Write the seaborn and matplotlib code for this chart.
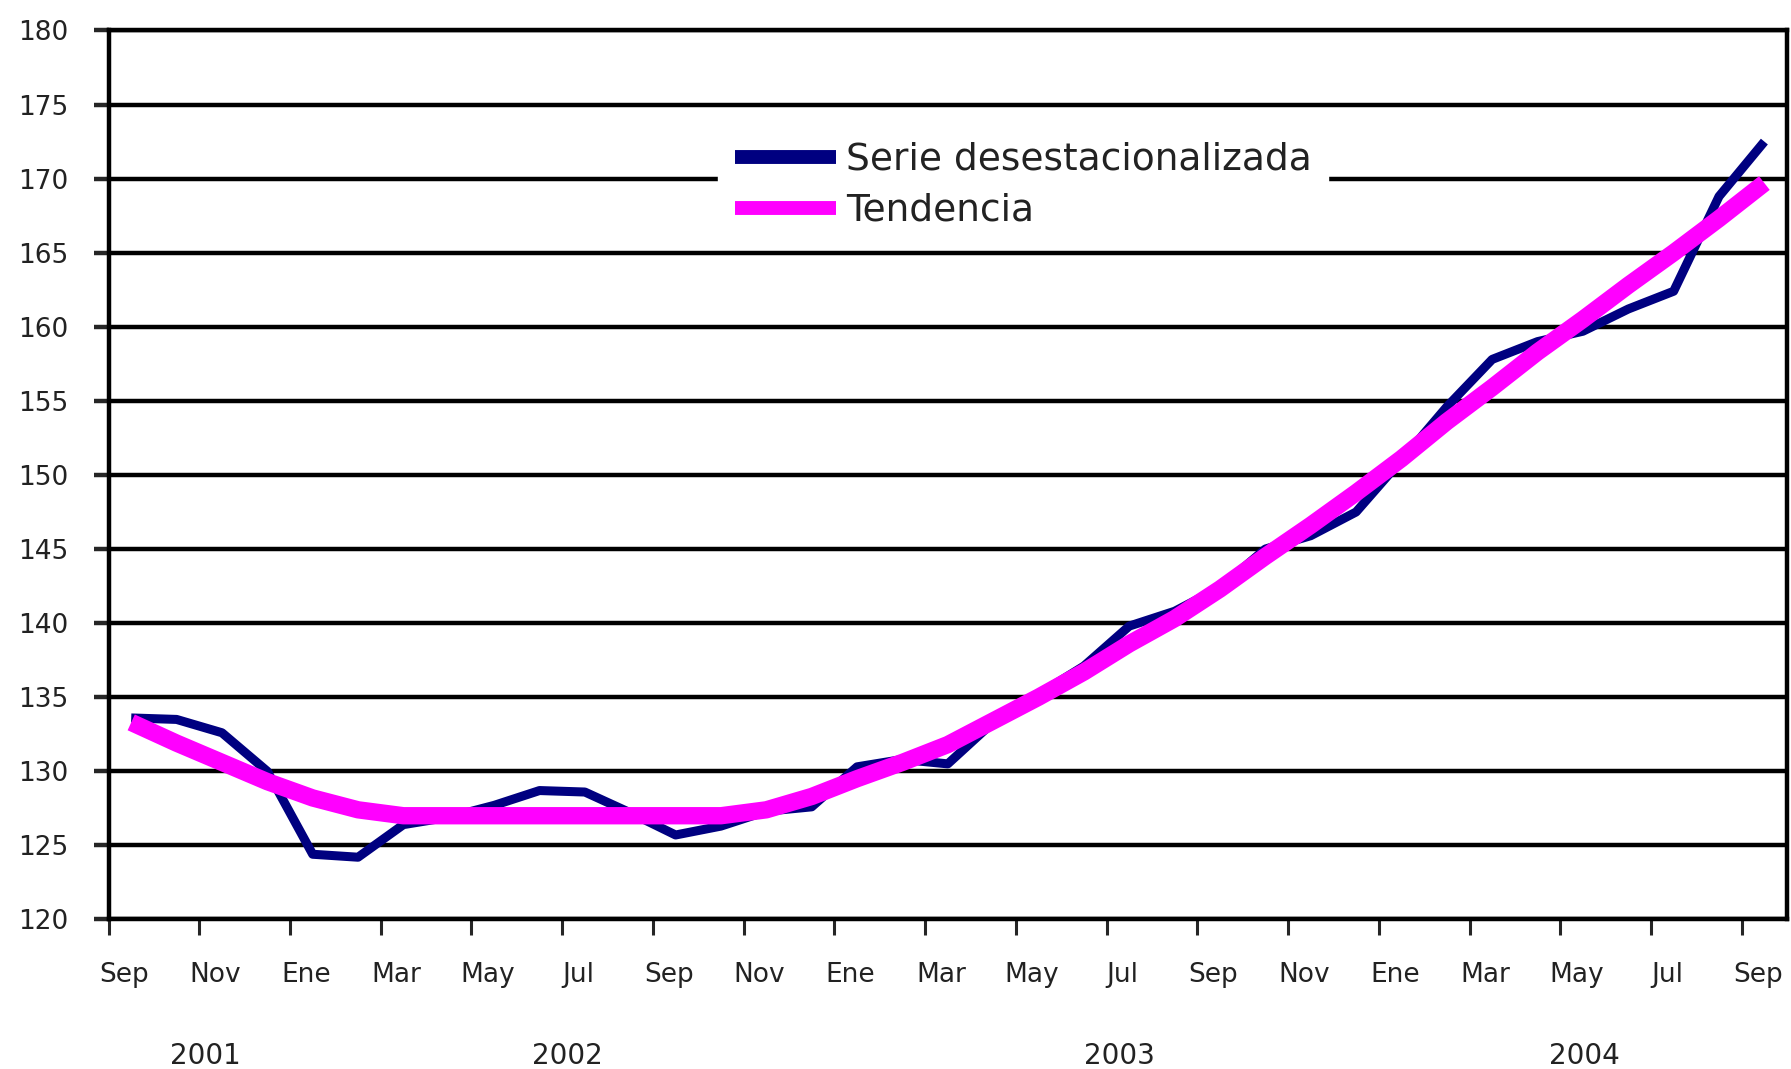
import matplotlib
matplotlib.use("Agg")
import matplotlib.pyplot as plt
import matplotlib.transforms as mtransforms
import numpy as np
import pandas as pd
import seaborn as sns

# datos mensuales, sep 2001 - sep 2004
meses = ["Sep", "Oct", "Nov", "Dic", "Ene", "Feb", "Mar", "Abr", "May", "Jun", "Jul", "Ago"] * 3 + ["Sep"]
serie = [133.6, 133.5, 132.6, 130.0, 124.4, 124.2, 126.4, 126.9, 127.7, 128.7, 128.6, 127.2,
         125.7, 126.3, 127.3, 127.6, 130.3, 130.8, 130.5, 133.3, 135.2, 137.1, 139.8, 140.8,
         142.4, 145.0, 145.9, 147.5, 151.0, 154.6, 157.8, 159.0, 159.7, 161.2, 162.4, 168.8, 172.5]
tendencia = [133.3, 131.9, 130.6, 129.3, 128.2, 127.4, 127.0, 127.0, 127.0, 127.0, 127.0, 127.0,
             127.0, 127.0, 127.4, 128.3, 129.5, 130.6, 131.8, 133.4, 135.0, 136.7, 138.6, 140.3,
             142.3, 144.5, 146.6, 148.8, 151.1, 153.6, 155.9, 158.3, 160.5, 162.8, 165.0, 167.3, 169.7]
etiquetas_x = ["Sep", "Nov", "Ene", "Mar", "May", "Jul"] * 3 + ["Sep"]
anios = ["2001", "2002", "2003", "2004"]
pos_anios = [2.14, 10.12, 22.28, 32.54]

df = pd.DataFrame({"mes": np.arange(len(serie)) + 0.5,
                   "serie": serie, "tendencia": tendencia})

sns.set_style("white")
plt.rcParams['font.family'] = ['DejaVu Sans']

fig = plt.figure(figsize=(17.91, 10.69), dpi=100)
ax = fig.add_axes([0.0606, 0.1399, 0.9372, 0.8316])

sns.lineplot(data=df, x="mes", y="serie", color="#000080", lw=6.5,
             label="Serie desestacionalizada", ax=ax, zorder=3,
             solid_capstyle="butt", solid_joinstyle="round")
sns.lineplot(data=df, x="mes", y="tendencia", color="#FF00FF", lw=12.5,
             label="Tendencia", ax=ax, zorder=4,
             solid_capstyle="butt", solid_joinstyle="round")

ax.set_xlim(0, 37)
ax.set_ylim(120, 180)
ax.set_yticks(np.arange(120, 181, 5))
ax.set_xticks(np.arange(0, 37, 2))
ax.set_xticklabels(etiquetas_x)
ax.set_xlabel("")
ax.set_ylabel("")

ax.grid(axis="y", color="black", lw=3.2)
ax.set_axisbelow(True)
for s in ax.spines.values():
    s.set_color("black")
    s.set_linewidth(3.2)

ax.tick_params(axis="y", direction="out", length=11, width=3.2, pad=18,
               labelsize=19, labelcolor="#222222", left=True)
ax.tick_params(axis="x", direction="out", length=11.5, width=2.2, pad=19,
               labelsize=19, labelcolor="#222222", bottom=True)

# desplazar etiquetas de mes un poco a la derecha
desp = mtransforms.ScaledTranslation(0.16, 0, fig.dpi_scale_trans)
for lab in ax.get_xticklabels():
    lab.set_transform(lab.get_transform() + desp)

# años bajo el eje
trans = mtransforms.blended_transform_factory(ax.transData, fig.transFigure)
for a, p in zip(anios, pos_anios):
    ax.text(p, 0.012, a, transform=trans, ha="center", va="center",
            fontsize=20, color="#222222")

leg = ax.legend(loc="upper left", bbox_to_anchor=(0.352, 0.915), fontsize=27,
                handlelength=2.7, handletextpad=0.25, labelspacing=0.4,
                borderpad=0.45, frameon=True, fancybox=False)
leg.get_frame().set_facecolor("white")
leg.get_frame().set_edgecolor("white")
leg.get_frame().set_alpha(1)
for t in leg.get_texts():
    t.set_color("#222222")
for h in leg.get_lines():
    h.set_linewidth(10)
    h.set_solid_capstyle("butt")

fig.savefig("out.png", dpi=100)
